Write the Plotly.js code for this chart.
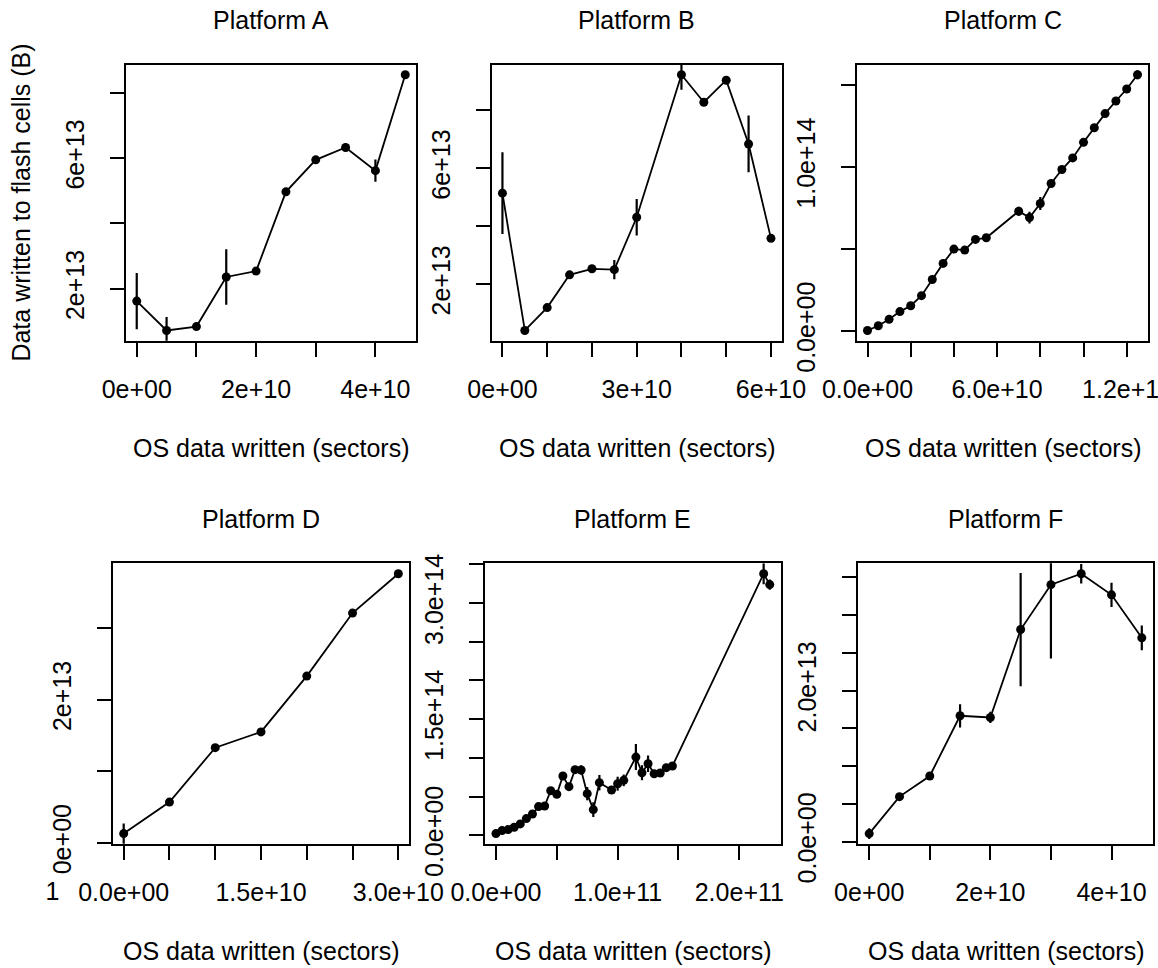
<!DOCTYPE html>
<html>
<head>
<meta charset="utf-8">
<script src="https://cdn.plot.ly/plotly-3.0.1.min.js"></script>
<style>html,body{margin:0;padding:0;background:#fff;}#chart{width:1158px;height:968px;}</style>
</head>
<body>
<div id="chart"></div>
<script>
// ---------------- DATA ----------------
const panelTitles = ["Platform A", "Platform B", "Platform C", "Platform D", "Platform E", "Platform F"];
const xAxisTitle = "OS data written (sectors)";
const yAxisTitle = "Data written to flash cells (B)";

const platformA_x = [0, 5e9, 1e10, 1.5e10, 2e10, 2.5e10, 3e10, 3.5e10, 4e10, 4.5e10];
const platformA_y = [1.62e13, 0.72e13, 0.84e13, 2.36e13, 2.54e13, 4.97e13, 5.95e13, 6.33e13, 5.62e13, 8.56e13];
const platformA_err = [0.86e13, 0.41e13, 0.05e13, 0.85e13, 0.06e13, 0.05e13, 0.05e13, 0.12e13, 0.34e13, 0.1e13];

const platformB_x = [0, 5e9, 1e10, 1.5e10, 2e10, 2.5e10, 3e10, 4e10, 4.5e10, 5e10, 5.5e10, 6e10];
const platformB_y = [5.14e13, 0.40e13, 1.19e13, 2.32e13, 2.53e13, 2.50e13, 4.31e13, 9.23e13, 8.28e13, 9.04e13, 6.84e13, 3.58e13];
const platformB_err = [1.41e13, 0.05e13, 0.05e13, 0.05e13, 0.05e13, 0.33e13, 0.63e13, 0.52e13, 0.05e13, 0.05e13, 0.98e13, 0.05e13];

const platformC_x = [0, 5e9, 1e10, 1.5e10, 2e10, 2.5e10, 3e10, 3.5e10, 4e10, 4.5e10, 5e10, 5.5e10,
                     7e10, 7.5e10, 8e10, 8.5e10, 9e10, 9.5e10, 10e10, 10.5e10, 11e10, 11.5e10, 12e10, 12.5e10];
const platformC_y = [0.03e13, 0.32e13, 0.71e13, 1.18e13, 1.54e13, 2.15e13, 3.14e13, 4.12e13, 4.99e13, 4.93e13, 5.58e13, 5.68e13,
                     7.30e13, 6.91e13, 7.77e13, 8.99e13, 9.84e13, 10.55e13, 11.50e13, 12.39e13, 13.25e13, 14.02e13, 14.75e13, 15.62e13];
const platformC_err = [0.05e13, 0.05e13, 0.05e13, 0.05e13, 0.05e13, 0.05e13, 0.05e13, 0.05e13, 0.05e13, 0.05e13, 0.05e13, 0.1e13,
                       0.27e13, 0.36e13, 0.39e13, 0.1e13, 0.1e13, 0.2e13, 0.1e13, 0.1e13, 0.1e13, 0.1e13, 0.1e13, 0.28e13];

const platformD_x = [0, 5e9, 1e10, 1.5e10, 2e10, 2.5e10, 3e10];
const platformD_y = [0.13e13, 0.57e13, 1.33e13, 1.55e13, 2.33e13, 3.21e13, 3.76e13];
const platformD_err = [0.14e13, 0, 0, 0, 0, 0, 0];

const platformE_x = [0, 5e9, 1e10, 1.5e10, 2e10, 2.5e10, 3e10, 3.5e10, 4e10, 4.5e10, 5e10, 5.5e10, 6e10, 6.5e10, 7e10,
                     7.5e10, 8e10, 8.5e10, 9.5e10, 10e10, 10.5e10, 11.5e10, 12e10, 12.5e10, 13e10, 13.5e10, 14e10, 14.5e10,
                     22e10, 22.5e10];
const platformE_y = [0.21e13, 0.60e13, 0.73e13, 1.03e13, 1.46e13, 2.15e13, 2.75e13, 3.70e13, 3.78e13, 5.76e13, 5.29e13, 7.65e13,
                     6.28e13, 8.47e13, 8.43e13, 5.37e13, 3.31e13, 6.79e13, 5.85e13, 6.66e13, 7.09e13, 10.10e13, 8.08e13,
                     9.24e13, 7.95e13, 8.04e13, 8.73e13, 8.94e13, 33.8e13, 32.39e13];
const platformE_err = [0.05e13, 0.05e13, 0.05e13, 0.1e13, 0.1e13, 0.1e13, 0.1e13, 0.1e13, 0.1e13, 0.2e13, 0.2e13, 0.2e13,
                       0.2e13, 0.3e13, 0.6e13, 0.86e13, 0.95e13, 1.0e13, 0.4e13, 0.9e13, 0.75e13, 1.68e13, 0.97e13,
                       1.07e13, 0.3e13, 0.3e13, 0.3e13, 0.5e13, 1.35e13, 0.65e13];

const platformF_x = [0, 5e9, 1e10, 1.5e10, 2e10, 2.5e10, 3e10, 3.5e10, 4e10, 4.5e10];
const platformF_y = [0.106e13, 0.596e13, 0.869e13, 1.667e13, 1.645e13, 2.81e13, 3.405e13, 3.55e13, 3.27e13, 2.70e13];
const platformF_err = [0.07e13, 0.03e13, 0.03e13, 0.154e13, 0.075e13, 0.75e13, 0.98e13, 0.13e13, 0.16e13, 0.165e13];

// tick values and tick labels (blank = label dropped for overlap)
const A_xticks = [0, 1e10, 2e10, 3e10, 4e10];
const A_xlabels = ["0e+00", "", "2e+10", "", "4e+10"];
const A_yticks = [2e13, 4e13, 6e13, 8e13];
const A_ylabels = ["2e+13", "", "6e+13", ""];

const B_xticks = [0, 1e10, 2e10, 3e10, 4e10, 5e10, 6e10];
const B_xlabels = ["0e+00", "", "", "3e+10", "", "", "6e+10"];
const B_yticks = [2e13, 4e13, 6e13, 8e13];
const B_ylabels = ["2e+13", "", "6e+13", ""];

const C_xticks = [0, 2e10, 4e10, 6e10, 8e10, 10e10, 12e10];
const C_xlabels = ["0.0e+00", "", "", "6.0e+10", "", "", "1.2e+11"];
const C_yticks = [0, 5e13, 10e13, 15e13];
const C_ylabels = ["0.0e+00", "", "1.0e+14", ""];

const D_xticks = [0, 5e9, 1e10, 1.5e10, 2e10, 2.5e10, 3e10];
const D_xlabels = ["0.0e+00", "", "", "1.5e+10", "", "", "3.0e+10"];
const D_yticks = [0, 1e13, 2e13, 3e13];
const D_ylabels = ["0e+00", "", "2e+13", ""];

const E_xticks = [0, 5e10, 10e10, 15e10, 20e10];
const E_xlabels = ["0.0e+00", "", "1.0e+11", "", "2.0e+11"];
const E_yticks = [0, 5e13, 10e13, 15e13, 20e13, 25e13, 30e13, 35e13];
const E_ylabels = ["0.0e+00", "", "", "1.5e+14", "", "", "3.0e+14", ""];

const F_xticks = [0, 1e10, 2e10, 3e10, 4e10];
const F_xlabels = ["0e+00", "", "2e+10", "", "4e+10"];
const F_yticks = [0, 5e12, 1e13, 1.5e13, 2e13, 2.5e13, 3e13, 3.5e13];
const F_ylabels = ["0.0e+00", "", "", "", "2.0e+13", "", "", ""];

// stray glyph that sits in the lower row of tick labels, left of Platform D
const strayLabel = ["1"];

// ---------------- LAYOUT ----------------
const W = 1158, H = 968;
const FONT = {family: "'Liberation Sans', Arial, Helvetica, sans-serif", size: 25, color: "#000"};
const boxes = [
  {l: 126, r: 416, t: 64.5, b: 340.7},
  {l: 491.7, r: 781.7, t: 64.5, b: 340.7},
  {l: 856.7, r: 1148.3, t: 64.5, b: 340.7},
  {l: 112.7, r: 409.3, t: 563.3, b: 844},
  {l: 485, r: 780.7, t: 563.3, b: 844},
  {l: 858.3, r: 1152.7, t: 563.3, b: 844}
];
const panels = [
  [platformA_x, platformA_y, platformA_err, A_xticks, A_xlabels, A_yticks, A_ylabels],
  [platformB_x, platformB_y, platformB_err, B_xticks, B_xlabels, B_yticks, B_ylabels],
  [platformC_x, platformC_y, platformC_err, C_xticks, C_xlabels, C_yticks, C_ylabels],
  [platformD_x, platformD_y, platformD_err, D_xticks, D_xlabels, D_yticks, D_ylabels],
  [platformE_x, platformE_y, platformE_err, E_xticks, E_xlabels, E_yticks, E_ylabels],
  [platformF_x, platformF_y, platformF_err, F_xticks, F_xlabels, F_yticks, F_ylabels]
];

function rRange(arr) {
  const mn = Math.min(...arr), mx = Math.max(...arr);
  const pad = 0.04 * (mx - mn);
  return [mn - pad, mx + pad];
}

const traces = [];
const layout = {
  width: W, height: H,
  margin: {l: 0, r: 0, t: 0, b: 0, pad: 0},
  paper_bgcolor: "#fff", plot_bgcolor: "#fff",
  showlegend: false,
  font: FONT,
  annotations: []
};
const common = {
  showline: true, mirror: true, linecolor: "#000", linewidth: 2,
  ticks: "outside", ticklen: 14, tickwidth: 2, tickcolor: "#000",
  showgrid: false, zeroline: false, tickmode: "array",
  tickfont: FONT, automargin: false, fixedrange: true,
  ticklabeloverflow: "allow"
};
const X_STANDOFF = 11, Y_STANDOFF = 16;

panels.forEach((p, i) => {
  const [xs, ys, es, xt, xl, yt, yl] = p;
  const b = boxes[i];
  const n = i === 0 ? "" : String(i + 1);
  traces.push({
    type: "scatter", mode: "lines+markers",
    x: xs, y: ys,
    xaxis: "x" + n, yaxis: "y" + n,
    line: {color: "#000", width: 1.8},
    marker: {color: "#000", size: 9},
    error_y: {type: "data", array: es, symmetric: true, color: "#000", thickness: 2.2, width: 0},
    hoverinfo: "skip"
  });
  layout["xaxis" + n] = Object.assign({}, common, {
    domain: [b.l / W, b.r / W],
    anchor: "y" + n,
    range: rRange(xs),
    tickvals: xt, ticktext: xl,
    tickangle: 0,
    ticklabelstandoff: X_STANDOFF
  });
  layout["yaxis" + n] = Object.assign({}, common, {
    domain: [1 - b.b / H, 1 - b.t / H],
    anchor: "x" + n,
    range: rRange(ys),
    tickvals: yt, ticktext: yl,
    tickangle: -90,
    ticklabelstandoff: Y_STANDOFF
  });
  // panel title
  layout.annotations.push({
    xref: "paper", yref: "paper", showarrow: false,
    x: ((b.l + b.r) / 2) / W, y: 1 - (b.t - 44.5) / H,
    xanchor: "center", yanchor: "middle",
    text: panelTitles[i], font: FONT
  });
  // x axis title
  layout.annotations.push({
    xref: "paper", yref: "paper", showarrow: false,
    x: ((b.l + b.r) / 2) / W, y: 1 - (b.b + 107) / H,
    xanchor: "center", yanchor: "middle",
    text: xAxisTitle, font: FONT
  });
});

// helper axis (no line, invisible ticks) sharing Platform D's y axis,
// so the stray "1" sits exactly in the same row as the tick labels
const strayLeft = 0, strayRight = 105;
traces.push({type: "scatter", mode: "markers", x: [], y: [], xaxis: "x7", yaxis: "y4", hoverinfo: "skip"});
layout.xaxis7 = Object.assign({}, common, {
  domain: [strayLeft / W, strayRight / W],
  anchor: "y4",
  range: [strayLeft, strayRight],
  showline: false, mirror: false,
  tickcolor: "rgba(0,0,0,0)",
  tickvals: [52.5], ticktext: strayLabel,
  tickangle: 0,
  ticklabelstandoff: X_STANDOFF
});

// y axis title (first panel only)
layout.annotations.push({
  xref: "paper", yref: "paper", showarrow: false,
  x: 21 / W, y: 1 - ((boxes[0].t + boxes[0].b) / 2) / H,
  xanchor: "center", yanchor: "middle", textangle: -90,
  text: yAxisTitle, font: FONT
});

Plotly.newPlot("chart", traces, layout, {staticPlot: true, displayModeBar: false});
</script>
</body>
</html>
